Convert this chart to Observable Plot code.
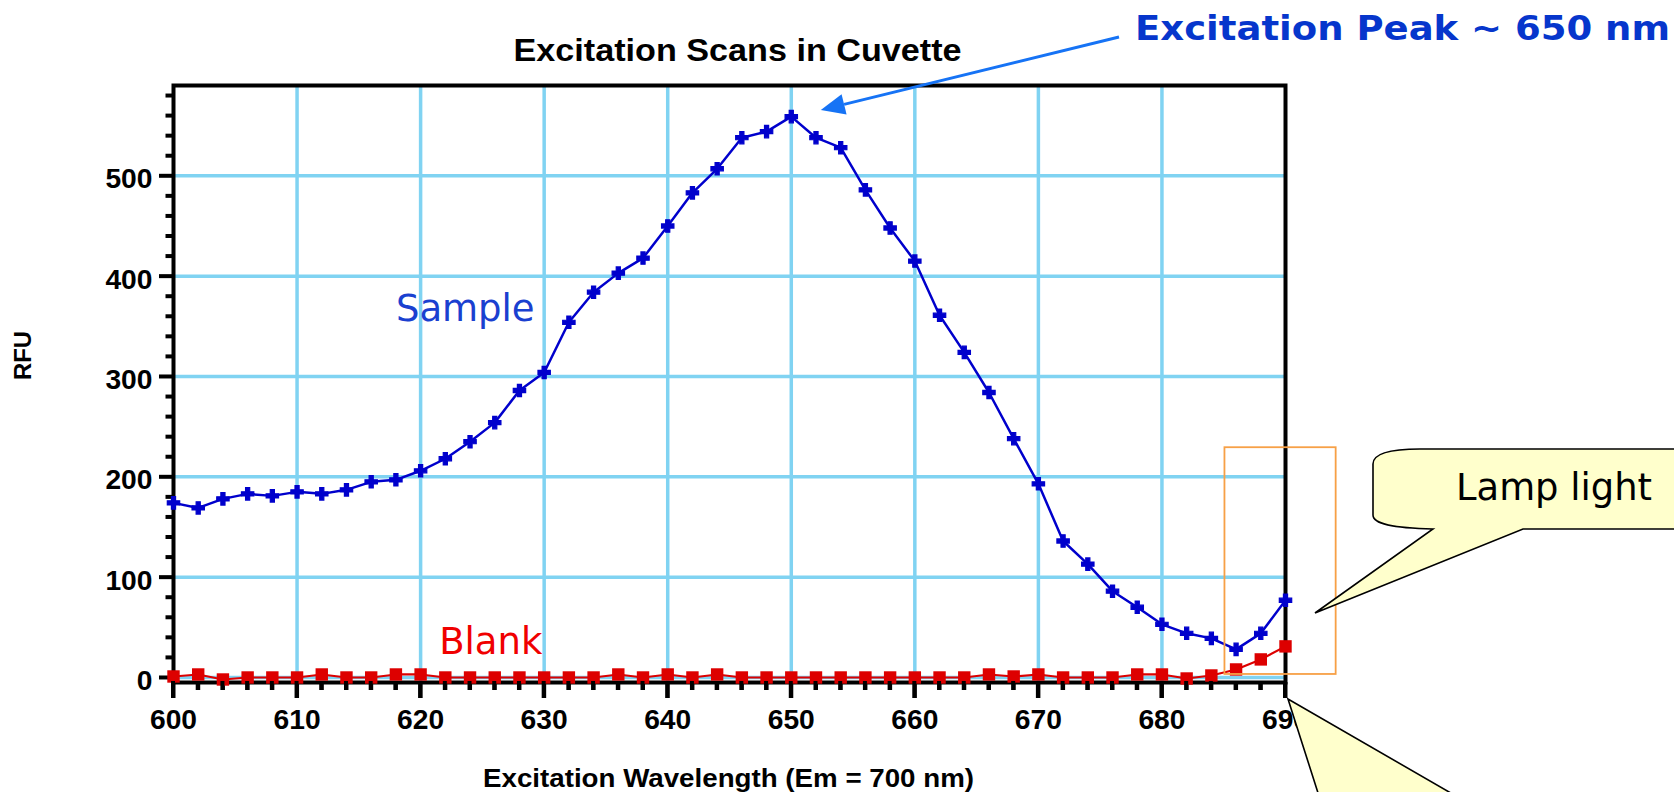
<!DOCTYPE html>
<html>
<head>
<meta charset="utf-8">
<script src="https://cdn.jsdelivr.net/npm/d3@7"></script>
<script src="https://cdn.jsdelivr.net/npm/@observablehq/plot@0.6"></script>
<style>
  html, body { margin: 0; padding: 0; background: #fff; }
  #chart svg { display: block; }
</style>
</head>
<body>
<div id="chart"></div>
<script>
// ---- data ----
const wavelengths = [600,602,604,606,608,610,612,614,616,618,620,622,624,626,628,630,632,634,636,638,640,642,644,646,648,650,652,654,656,658,660,662,664,666,668,670,672,674,676,678,680,682,684,686,688,690];
const sampleRFU = [174,169,178,183,181,185,183,187,195,197,206,218,235,254,286,304,354,384,403,418,450,483,507,538,544,559,538,528,486,448,415,361,324,284,238,193,136,113,86,70,53,44,39,28,44,77];
const blankRFU = [1,3,-2,0,0,0,3,0,0,3,3,0,0,0,0,0,0,0,3,0,3,0,3,0,0,0,0,0,0,0,0,0,0,3,1,3,0,0,0,3,3,-1,2,8,18,31];

const xMajorTicks = [600,610,620,630,640,650,660,670,680,690];
const xMinorTicks = [602,604,606,608,612,614,616,618,622,624,626,628,632,634,636,638,642,644,646,648,652,654,656,658,662,664,666,668,672,674,676,678,682,684,686,688];
const yMajorTicks = [0,100,200,300,400,500];
const yMinorTicks = [20,40,60,80,120,140,160,180,220,240,260,280,320,340,360,380,420,440,460,480,520,540,560,580];
const xGridLines = [610,620,630,640,650,660,670,680];
const yGridLines = [0,100,200,300,400,500];

const chartTitle = "Excitation Scans in Cuvette";
const xTitle = "Excitation Wavelength (Em = 700 nm)";
const yTitle = "RFU";
const seriesNames = ["Sample", "Blank"];
const seriesColors = ["#0000cc", "#dd0000"];
const labelColors = ["#1a40d0", "#f00000"];
const peakNote = "Excitation Peak ~ 650 nm";
const lampNote = "Lamp light";

// ---- tables built from the arrays ----
const sample = wavelengths.map((w, i) => ({w, v: sampleRFU[i]}));
const blank = wavelengths.map((w, i) => ({w, v: blankRFU[i]}));
const peakIndex = sampleRFU.indexOf(Math.max(...sampleRFU));

const boldFont = "'Liberation Sans', Arial, Helvetica, sans-serif";
const verdFont = "'DejaVu Sans', Verdana, sans-serif";
const gridColor = "#80d3f2";

const xDomain = [600, 690];
const yDomain = [-5, 590];

const plot = Plot.plot({
  width: 1674,
  height: 792,
  marginLeft: 173,
  marginRight: 389,
  marginTop: 85,
  marginBottom: 110,
  x: {domain: xDomain},
  y: {domain: yDomain},
  style: {background: "white", overflow: "visible"},
  marks: [
    Plot.gridX(xGridLines, {stroke: gridColor, strokeOpacity: 1, strokeWidth: 3.5}),
    Plot.gridY(yGridLines, {stroke: gridColor, strokeOpacity: 1, strokeWidth: 3.5}),
    Plot.frame({stroke: "black", strokeWidth: 4}),
    // axes: ticks + labels
    Plot.axisX(xMajorTicks, {tickSize: 16, tickPadding: 11, stroke: "black", strokeWidth: 4, fontSize: 27, fontWeight: "bold", fontFamily: boldFont, label: null}),
    Plot.axisX(xMinorTicks, {tickSize: 8, stroke: "black", strokeWidth: 4, tickFormat: () => "", label: null}),
    Plot.axisY(yMajorTicks, {tickSize: 14, tickPadding: 7, stroke: "black", strokeWidth: 4, fontSize: 27, fontWeight: "bold", fontFamily: boldFont, label: null}),
    Plot.axisY(yMinorTicks, {tickSize: 7.5, stroke: "black", strokeWidth: 3.5, tickFormat: () => "", label: null}),
    // data
    Plot.line(sample, {x: "w", y: "v", stroke: seriesColors[0], strokeWidth: 2.5}),
    Plot.dot(sample, {x: "w", y: "v", symbol: "cross", fill: seriesColors[0], stroke: seriesColors[0], strokeWidth: 1.2, r: 5.2}),
    Plot.line(blank, {x: "w", y: "v", stroke: seriesColors[1], strokeWidth: 2.2}),
    Plot.dot(blank, {x: "w", y: "v", symbol: "square", fill: seriesColors[1], r: 7}),
    // series labels
    Plot.text([seriesNames[0]], {x: 618, y: 355, text: d => d, textAnchor: "start", lineAnchor: "bottom", fontSize: 37, fontFamily: verdFont, fill: labelColors[0]}),
    Plot.text([seriesNames[1]], {x: 621.5, y: 23.6, text: d => d, textAnchor: "start", lineAnchor: "bottom", fontSize: 37, fontFamily: verdFont, fill: labelColors[1]}),
    // titles
    Plot.text([chartTitle], {frameAnchor: "top", dx: 8, dy: -25, lineAnchor: "bottom", text: d => d, fontSize: 31, fontWeight: "bold", fontFamily: boldFont, fill: "black"}),
    Plot.text([xTitle], {frameAnchor: "bottom", dx: -1, dy: 104, lineAnchor: "bottom", text: d => d, fontSize: 26, fontWeight: "bold", fontFamily: boldFont, fill: "black"}),
    Plot.text([yTitle], {frameAnchor: "left", dx: -150, dy: -4, rotate: -90, lineAnchor: "middle", text: d => d, fontSize: 24, fontWeight: "bold", fontFamily: boldFont, fill: "black"})
  ]
});

const svg = d3.select(plot);
const xs = plot.scale("x"), ys = plot.scale("y");

// make sure the tick marks are thick and black wherever the axis drew them
svg.selectAll('g[aria-label$="axis tick"]').each(function() {
  d3.select(this).attr("stroke", "black").attr("stroke-width", 4).attr("stroke-opacity", 1)
    .selectAll("path,line").attr("stroke", "black").attr("stroke-width", 4).attr("stroke-opacity", 1);
});

// tick label widths (the original glyphs are slightly wide)
svg.selectAll('g[aria-label="x-axis tick label"] text, g[aria-label="y-axis tick label"] text').each(function() {
  const s = this.textContent;
  if (s && s.length) {
    this.setAttribute("textLength", s.length * 15.7);
    this.setAttribute("lengthAdjust", "spacingAndGlyphs");
  }
});
svg.selectAll('g[aria-label="y-axis tick label"]').each(function() {
  const t = this.getAttribute("transform") || "";
  this.setAttribute("transform", t + " translate(0,4)");
});
const fitText = (content, len) => svg.selectAll("text").filter(function() { return this.textContent === content; })
  .attr("textLength", len).attr("lengthAdjust", "spacingAndGlyphs");
fitText(chartTitle, 448);
fitText(xTitle, 491);
fitText(yTitle, 49);

// bottom-axis ticks drawn again from the x scale, on top, so they are always visible
const [fx0, fx1] = xs.range, [fy0] = ys.range;
const tickLayer = svg.append("g").attr("class", "bottom-ticks").attr("stroke", "black").attr("stroke-linecap", "butt");
tickLayer.selectAll("line.major").data(xMajorTicks).join("line").attr("class", "major")
  .attr("x1", d => xs.apply(d)).attr("x2", d => xs.apply(d))
  .attr("y1", fy0 - 1).attr("y2", fy0 + 16).attr("stroke-width", 4);
tickLayer.selectAll("line.minor").data(xMinorTicks).join("line").attr("class", "minor")
  .attr("x1", d => xs.apply(d)).attr("x2", d => xs.apply(d))
  .attr("y1", fy0 - 1).attr("y2", fy0 + 8).attr("stroke-width", 4);

// ---- annotations ----
const ann = svg.append("g").attr("class", "annotations").attr("text-anchor", "start");

// orange box marking the lamp-light region
ann.append("rect")
  .attr("x", xs.apply(685.1)).attr("y", ys.apply(229))
  .attr("width", xs.apply(694.1) - xs.apply(685.1))
  .attr("height", ys.apply(3) - ys.apply(229))
  .attr("fill", "none").attr("stroke", "#f7a046").attr("stroke-width", 1.8);

// lamp light speech balloon
ann.append("path")
  .attr("d", "M1315,613 L1523,529 L1680,529 L1680,449 L1420,449 C1388,449 1373,454 1373,464 L1373,515 C1373,524 1392,528 1433,529 Z")
  .attr("fill", "#ffffcc").attr("stroke", "black").attr("stroke-width", 1.6).attr("stroke-linejoin", "miter");
ann.append("text")
  .attr("x", 1456).attr("y", 500)
  .attr("text-anchor", "start")
  .attr("font-family", verdFont).attr("font-size", 37).attr("fill", "black")
  .attr("textLength", 196).attr("lengthAdjust", "spacingAndGlyphs")
  .text(lampNote);

// second balloon pointer at the lower right
ann.append("path")
  .attr("d", "M1288,699 L1319,796 L1456,796 Z")
  .attr("fill", "#ffffcc").attr("stroke", "black").attr("stroke-width", 1.6);

// peak note and arrow to the peak point
const px = xs.apply(wavelengths[peakIndex]), py = ys.apply(sampleRFU[peakIndex]);
const tip = [px + 30, py - 6];
const start = [1119, 37];
const ux = tip[0] - start[0], uy = tip[1] - start[1];
const L = Math.hypot(ux, uy), dxn = ux / L, dyn = uy / L;
const headLen = 24, headHalf = 10.5;
const base = [tip[0] - dxn * headLen, tip[1] - dyn * headLen];
ann.append("line")
  .attr("x1", start[0]).attr("y1", start[1]).attr("x2", base[0]).attr("y2", base[1])
  .attr("stroke", "#1673f5").attr("stroke-width", 3);
ann.append("path")
  .attr("d", `M${tip[0]},${tip[1]} L${base[0] - dyn * headHalf},${base[1] + dxn * headHalf} L${base[0] + dyn * headHalf},${base[1] - dxn * headHalf} Z`)
  .attr("fill", "#1673f5");
ann.append("text")
  .attr("x", 1135).attr("y", 40)
  .attr("text-anchor", "start")
  .attr("font-family", verdFont).attr("font-weight", "bold").attr("font-size", 33)
  .attr("fill", "#0636cc")
  .attr("textLength", 535).attr("lengthAdjust", "spacingAndGlyphs")
  .text(peakNote);

document.getElementById("chart").appendChild(plot);
</script>
</body>
</html>
